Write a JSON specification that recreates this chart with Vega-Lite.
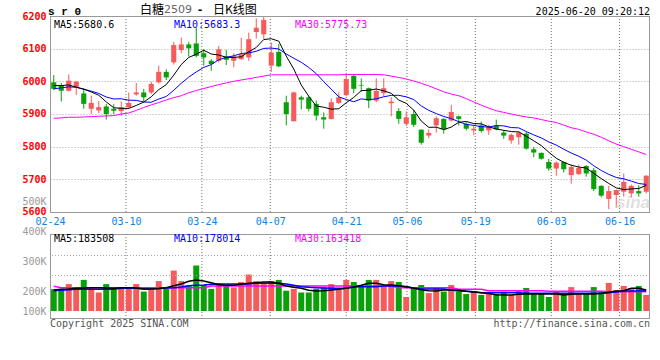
{
"$schema": "https://vega.github.io/schema/vega-lite/v6.json",
"width": 600, "height": 302,
"autosize": {"type": "none"},
"padding": {"left": 50, "top": 16, "right": 10, "bottom": 42},
"background": "white",
"config": {"view": {"stroke": null}, "font": "DejaVu Sans Mono"},
"data": {"values": [
{"date":"02-24","open":5997,"high":6019,"low":5973,"close":5977,"vol":206,"ma5":5987,"ma10":5977,"ma30":5887,"vma5":203.4,"vma10":201.2,"vma30":215.6},
{"date":"02-25","open":5989,"high":5995,"low":5938,"close":5971,"vol":207,"ma5":5987,"ma10":5980,"ma30":5888,"vma5":205.6,"vma10":202.3,"vma30":211.2},
{"date":"02-26","open":5971,"high":6021,"low":5969,"close":6002,"vol":223,"ma5":5989,"ma10":5983,"ma30":5890,"vma5":206.7,"vma10":204.5,"vma30":211.2},
{"date":"02-27","open":5982,"high":6001,"low":5958,"close":5999,"vol":206,"ma5":5982,"ma10":5982,"ma30":5890,"vma5":209,"vma10":205.6,"vma30":211.2},
{"date":"02-28","open":5963,"high":5979,"low":5916,"close":5931,"vol":237,"ma5":5976,"ma10":5976,"ma30":5891,"vma5":210,"vma10":205.6,"vma30":211.2},
{"date":"03-03","open":5916,"high":5956,"low":5900,"close":5934,"vol":212,"ma5":5967.4,"ma10":5970,"ma30":5892,"vma5":211.2,"vma10":205.6,"vma30":211.2},
{"date":"03-04","open":5911,"high":5940,"low":5903,"close":5921,"vol":195,"ma5":5957.4,"ma10":5963,"ma30":5893,"vma5":211.2,"vma10":205.6,"vma30":211.2},
{"date":"03-05","open":5923,"high":5931,"low":5883,"close":5900,"vol":223,"ma5":5937,"ma10":5952,"ma30":5894,"vma5":210,"vma10":205.6,"vma30":211.2},
{"date":"03-06","open":5916,"high":5930,"low":5900,"close":5910,"vol":209,"ma5":5919.2,"ma10":5946,"ma30":5895,"vma5":209,"vma10":205.6,"vma30":211.2},
{"date":"03-07","open":5909,"high":5939,"low":5895,"close":5921,"vol":212,"ma5":5917.2,"ma10":5946.6,"ma30":5900,"vma5":211.2,"vma10":209,"vma30":211.2},
{"date":"03-10","open":5921,"high":5966,"low":5916,"close":5934,"vol":207,"ma5":5917.2,"ma10":5942.3,"ma30":5903,"vma5":211.2,"vma10":209,"vma30":211.2},
{"date":"03-11","open":5960,"high":5995,"low":5956,"close":5966,"vol":223,"ma5":5926.2,"ma10":5941.8,"ma30":5911,"vma5":210,"vma10":209,"vma30":211.2},
{"date":"03-12","open":5966,"high":5977,"low":5938,"close":5951,"vol":198,"ma5":5936.4,"ma10":5936.7,"ma30":5920,"vma5":206.7,"vma10":206.7,"vma30":211.2},
{"date":"03-13","open":5966,"high":5999,"low":5961,"close":5992,"vol":203,"ma5":5952.8,"ma10":5936,"ma30":5928,"vma5":206.7,"vma10":206.7,"vma30":211.2},
{"date":"03-14","open":5997,"high":6048,"low":5993,"close":6029,"vol":233,"ma5":5974.4,"ma10":5945.8,"ma30":5935,"vma5":208,"vma10":208,"vma30":211.2},
{"date":"03-17","open":6029,"high":6037,"low":6004,"close":6012,"vol":207,"ma5":5990,"ma10":5953.6,"ma30":5943,"vma5":211.2,"vma10":210,"vma30":211.2},
{"date":"03-18","open":6058,"high":6121,"low":6051,"close":6111,"vol":268,"ma5":6019,"ma10":5972.6,"ma30":5950,"vma5":217.8,"vma10":211.2,"vma30":211.2},
{"date":"03-19","open":6096,"high":6134,"low":6086,"close":6113,"vol":233,"ma5":6051.4,"ma10":5993.9,"ma30":5956,"vma5":223.3,"vma10":213.4,"vma30":211.2},
{"date":"03-20","open":6113,"high":6121,"low":6076,"close":6101,"vol":218,"ma5":6073.2,"ma10":6013,"ma30":5965,"vma5":232.3,"vma10":217.8,"vma30":211.2},
{"date":"03-21","open":6116,"high":6164,"low":6073,"close":6078,"vol":285,"ma5":6083,"ma10":6028.7,"ma30":5972,"vma5":236.7,"vma10":218.9,"vma30":211.2},
{"date":"03-24","open":6086,"high":6098,"low":6048,"close":6073,"vol":220,"ma5":6095.2,"ma10":6042.6,"ma30":5978,"vma5":233.4,"vma10":220,"vma30":211.2},
{"date":"03-25","open":6063,"high":6068,"low":6032,"close":6053,"vol":207,"ma5":6083.6,"ma10":6051.3,"ma30":5984,"vma5":227.8,"vma10":222.3,"vma30":216.7},
{"date":"03-26","open":6063,"high":6108,"low":6058,"close":6098,"vol":226,"ma5":6080.6,"ma10":6066,"ma30":5990,"vma5":221.2,"vma10":223.4,"vma30":216.7},
{"date":"03-27","open":6076,"high":6096,"low":6050,"close":6066,"vol":217,"ma5":6073.6,"ma10":6073.4,"ma30":5995,"vma5":219,"vma10":223.4,"vma30":216.7},
{"date":"03-28","open":6063,"high":6086,"low":6043,"close":6076,"vol":212,"ma5":6073.2,"ma10":6078.1,"ma30":6000,"vma5":219,"vma10":223.4,"vma30":216.7},
{"date":"03-31","open":6068,"high":6134,"low":6066,"close":6083,"vol":230,"ma5":6075.2,"ma10":6085.2,"ma30":6004,"vma5":222.3,"vma10":223.4,"vma30":216.7},
{"date":"04-01","open":6073,"high":6149,"low":6063,"close":6129,"vol":255,"ma5":6090.4,"ma10":6087,"ma30":6008,"vma5":225.6,"vma10":223.4,"vma30":216.7},
{"date":"04-02","open":6151,"high":6193,"low":6131,"close":6164,"vol":233,"ma5":6103.6,"ma10":6092.1,"ma30":6012,"vma5":227.8,"vma10":225.6,"vma30":216.7},
{"date":"04-03","open":6144,"high":6198,"low":6130,"close":6188,"vol":223,"ma5":6128,"ma10":6100.8,"ma30":6016,"vma5":230,"vma10":225.6,"vma30":216.7},
{"date":"04-07","open":6048,"high":6119,"low":6029,"close":6088,"vol":233,"ma5":6130.4,"ma10":6101.8,"ma30":6020,"vma5":230,"vma10":225.6,"vma30":216.7},
{"date":"04-08","open":6090,"high":6114,"low":6043,"close":6046,"vol":237,"ma5":6123,"ma10":6099.1,"ma30":6020,"vma5":225.6,"vma10":225.6,"vma30":216.7},
{"date":"04-09","open":5936,"high":5956,"low":5865,"close":5900,"vol":201,"ma5":6077.2,"ma10":6083.8,"ma30":6020,"vma5":216.7,"vma10":223.4,"vma30":216.7},
{"date":"04-10","open":5878,"high":5968,"low":5877,"close":5966,"vol":207,"ma5":6037.6,"ma10":6070.6,"ma30":6020,"vma5":212.3,"vma10":219,"vma30":216.7},
{"date":"04-11","open":5951,"high":5956,"low":5914,"close":5944,"vol":195,"ma5":5988.8,"ma10":6058.4,"ma30":6020,"vma5":209,"vma10":214.5,"vma30":216.7},
{"date":"04-14","open":5951,"high":5956,"low":5908,"close":5916,"vol":195,"ma5":5954.4,"ma10":6042.4,"ma30":6020,"vma5":202.3,"vma10":212.3,"vma30":216.7},
{"date":"04-15","open":5931,"high":5941,"low":5880,"close":5895,"vol":207,"ma5":5924.2,"ma10":6023.6,"ma30":6020,"vma5":200,"vma10":211.2,"vma30":216.7},
{"date":"04-16","open":5890,"high":5905,"low":5855,"close":5883,"vol":212,"ma5":5920.8,"ma10":5999,"ma30":6020,"vma5":201.2,"vma10":210,"vma30":216.7},
{"date":"04-17","open":5885,"high":5948,"low":5883,"close":5936,"vol":223,"ma5":5914.8,"ma10":5976.2,"ma30":6020,"vma5":203.4,"vma10":209,"vma30":216.7},
{"date":"04-18","open":5934,"high":5966,"low":5931,"close":5951,"vol":206,"ma5":5916.2,"ma10":5952.5,"ma30":6020,"vma5":205.6,"vma10":209,"vma30":216.7},
{"date":"04-21","open":5958,"high":6022,"low":5954,"close":6007,"vol":237,"ma5":5934.4,"ma10":5944.4,"ma30":6021,"vma5":209,"vma10":210,"vma30":216.7},
{"date":"04-22","open":6017,"high":6022,"low":5964,"close":5977,"vol":230,"ma5":5950.8,"ma10":5937.5,"ma30":6021,"vma5":213.4,"vma10":213.4,"vma30":216.7},
{"date":"04-23","open":5989,"high":6009,"low":5968,"close":5987,"vol":217,"ma5":5971.6,"ma10":5946.2,"ma30":6021,"vma5":219,"vma10":214.5,"vma30":216.7},
{"date":"04-24","open":5979,"high":5981,"low":5918,"close":5941,"vol":237,"ma5":5972.6,"ma10":5943.7,"ma30":6021,"vma5":225.6,"vma10":214.5,"vma30":216.7},
{"date":"04-25","open":5941,"high":6009,"low":5936,"close":5971,"vol":237,"ma5":5976.6,"ma10":5946.4,"ma30":6021,"vma5":225.6,"vma10":214.5,"vma30":216.7},
{"date":"04-28","open":5964,"high":6009,"low":5954,"close":5979,"vol":215,"ma5":5971,"ma10":5952.7,"ma30":6020,"vma5":221.2,"vma10":216.7,"vma30":216.7},
{"date":"04-29","open":5933,"high":5951,"low":5893,"close":5938,"vol":233,"ma5":5963.2,"ma10":5957,"ma30":6016,"vma5":220,"vma10":216.7,"vma30":216.7},
{"date":"04-30","open":5909,"high":5918,"low":5870,"close":5885,"vol":230,"ma5":5942.8,"ma10":5957.2,"ma30":6012,"vma5":217.8,"vma10":216.7,"vma30":211.2},
{"date":"05-06","open":5870,"high":5908,"low":5863,"close":5890,"vol":180,"ma5":5932.6,"ma10":5952.6,"ma30":6007,"vma5":214.5,"vma10":214.5,"vma30":211.2},
{"date":"05-07","open":5900,"high":5913,"low":5860,"close":5867,"vol":209,"ma5":5911.8,"ma10":5944.2,"ma30":6001,"vma5":209,"vma10":210,"vma30":211.2},
{"date":"05-08","open":5852,"high":5853,"low":5806,"close":5812,"vol":220,"ma5":5878.4,"ma10":5924.7,"ma30":5994,"vma5":204.5,"vma10":207.8,"vma30":211.2},
{"date":"05-09","open":5834,"high":5853,"low":5826,"close":5842,"vol":193,"ma5":5859.2,"ma10":5911.2,"ma30":5986,"vma5":201.2,"vma10":206.7,"vma30":211.2},
{"date":"05-12","open":5865,"high":5893,"low":5843,"close":5887,"vol":212,"ma5":5859.6,"ma10":5901.2,"ma30":5977,"vma5":200,"vma10":206.7,"vma30":211.2},
{"date":"05-13","open":5885,"high":5887,"low":5840,"close":5853,"vol":198,"ma5":5852.2,"ma10":5892.4,"ma30":5968,"vma5":203.4,"vma10":206.7,"vma30":211.2},
{"date":"05-14","open":5880,"high":5928,"low":5877,"close":5906,"vol":220,"ma5":5860,"ma10":5885.9,"ma30":5961,"vma5":203.4,"vma10":203.4,"vma30":211.2},
{"date":"05-15","open":5893,"high":5895,"low":5865,"close":5885,"vol":198,"ma5":5874.6,"ma10":5876.5,"ma30":5956,"vma5":202.3,"vma10":200,"vma30":205.6},
{"date":"05-16","open":5870,"high":5875,"low":5850,"close":5855,"vol":190,"ma5":5877.2,"ma10":5868.2,"ma30":5947,"vma5":199,"vma10":199,"vma30":205.6},
{"date":"05-19","open":5850,"high":5865,"low":5836,"close":5855,"vol":198,"ma5":5870.8,"ma10":5865.2,"ma30":5937,"vma5":196.7,"vma10":197.8,"vma30":205.6},
{"date":"05-20","open":5865,"high":5877,"low":5843,"close":5848,"vol":187,"ma5":5869.8,"ma10":5861,"ma30":5927,"vma5":194.5,"vma10":194.5,"vma30":205.6},
{"date":"05-21","open":5850,"high":5867,"low":5836,"close":5860,"vol":190,"ma5":5860.6,"ma10":5860.3,"ma30":5918,"vma5":191.3,"vma10":194.5,"vma30":201.2},
{"date":"05-22","open":5865,"high":5883,"low":5850,"close":5853,"vol":190,"ma5":5854.2,"ma10":5864.4,"ma30":5910,"vma5":187.9,"vma10":194.5,"vma30":201.2},
{"date":"05-23","open":5843,"high":5850,"low":5824,"close":5834,"vol":198,"ma5":5850,"ma10":5863.6,"ma30":5905,"vma5":186.7,"vma10":194.5,"vma30":201.2},
{"date":"05-26","open":5819,"high":5840,"low":5809,"close":5836,"vol":187,"ma5":5846.2,"ma10":5858.5,"ma30":5900,"vma5":186.7,"vma10":194.5,"vma30":201.2},
{"date":"05-27","open":5829,"high":5847,"low":5806,"close":5843,"vol":203,"ma5":5845.2,"ma10":5857.5,"ma30":5895,"vma5":188.9,"vma10":194.5,"vma30":201.2},
{"date":"05-28","open":5840,"high":5845,"low":5791,"close":5794,"vol":210,"ma5":5832,"ma10":5846.3,"ma30":5891,"vma5":190,"vma10":192.3,"vma30":201.2},
{"date":"05-29","open":5792,"high":5799,"low":5768,"close":5782,"vol":190,"ma5":5817.8,"ma10":5836,"ma30":5888,"vma5":190,"vma10":192.3,"vma30":201.2},
{"date":"05-30","open":5781,"high":5782,"low":5760,"close":5763,"vol":190,"ma5":5803.6,"ma10":5826.8,"ma30":5883,"vma5":190,"vma10":192.3,"vma30":201.2},
{"date":"06-03","open":5753,"high":5763,"low":5726,"close":5733,"vol":180,"ma5":5783,"ma10":5814.6,"ma30":5878,"vma5":190,"vma10":192.3,"vma30":199},
{"date":"06-04","open":5733,"high":5755,"low":5711,"close":5751,"vol":198,"ma5":5764.6,"ma10":5804.9,"ma30":5874,"vma5":190,"vma10":192.3,"vma30":199},
{"date":"06-05","open":5753,"high":5755,"low":5721,"close":5731,"vol":190,"ma5":5752,"ma10":5792,"ma30":5866,"vma5":186.7,"vma10":192.3,"vma30":199},
{"date":"06-06","open":5713,"high":5745,"low":5687,"close":5738,"vol":213,"ma5":5743.2,"ma10":5780.5,"ma30":5858,"vma5":188.9,"vma10":192.3,"vma30":199},
{"date":"06-09","open":5716,"high":5745,"low":5713,"close":5735,"vol":190,"ma5":5737.6,"ma10":5770.6,"ma30":5853,"vma5":190,"vma10":192.3,"vma30":199},
{"date":"06-10","open":5741,"high":5743,"low":5708,"close":5718,"vol":190,"ma5":5734.6,"ma10":5758.8,"ma30":5845,"vma5":190,"vma10":192.3,"vma30":199},
{"date":"06-11","open":5728,"high":5735,"low":5664,"close":5670,"vol":213,"ma5":5718.4,"ma10":5741.5,"ma30":5838,"vma5":190,"vma10":192.3,"vma30":199},
{"date":"06-12","open":5680,"high":5682,"low":5645,"close":5650,"vol":198,"ma5":5702.2,"ma10":5727.1,"ma30":5829,"vma5":191.3,"vma10":192.3,"vma30":199},
{"date":"06-13","open":5640,"high":5680,"low":5609,"close":5664,"vol":227,"ma5":5687.4,"ma10":5715.3,"ma30":5818,"vma5":195.6,"vma10":194.5,"vma30":197.8},
{"date":"06-16","open":5652,"high":5669,"low":5613,"close":5667,"vol":203,"ma5":5673.8,"ma10":5705.7,"ma30":5808,"vma5":200,"vma10":196.7,"vma30":197.8},
{"date":"06-17","open":5662,"high":5718,"low":5647,"close":5692,"vol":217,"ma5":5668.6,"ma10":5701.6,"ma30":5800,"vma5":201.2,"vma10":200,"vma30":197.8},
{"date":"06-18","open":5657,"high":5684,"low":5644,"close":5680,"vol":210,"ma5":5670.6,"ma10":5694.5,"ma30":5792,"vma5":209,"vma10":200,"vma30":197.8},
{"date":"06-19","open":5664,"high":5682,"low":5647,"close":5657,"vol":217,"ma5":5672,"ma10":5687.1,"ma30":5784,"vma5":209,"vma10":200,"vma30":197.8},
{"date":"06-20","open":5662,"high":5713,"low":5657,"close":5711,"vol":187,"ma5":5681.4,"ma10":5684.4,"ma30":5776,"vma5":203.4,"vma10":201.2,"vma30":197.8}
]},
"resolve": {"scale": {"x": "independent", "y": "independent"}, "axis": {"x": "independent", "y": "independent"}},
"layer": [
{
 "transform": [{"filter": "indexof(['03-10','03-24','04-07','04-21','05-06','05-19','06-03','06-16'], datum.date) >= 0"}],
 "resolve": {"scale": {"y": "independent"}, "axis": {"y": "independent"}},
 "layer": [
  {"mark": {"type": "rule", "color": "#6e6e6e", "strokeDash": [1, 2], "strokeWidth": 1},
   "encoding": {
    "x": {"field": "date", "type": "ordinal",
          "scale": {"type": "point", "padding": 0, "domain": ["02-24","02-25","02-26","02-27","02-28","03-03","03-04","03-05","03-06","03-07","03-10","03-11","03-12","03-13","03-14","03-17","03-18","03-19","03-20","03-21","03-24","03-25","03-26","03-27","03-28","03-31","04-01","04-02","04-03","04-07","04-08","04-09","04-10","04-11","04-14","04-15","04-16","04-17","04-18","04-21","04-22","04-23","04-24","04-25","04-28","04-29","04-30","05-06","05-07","05-08","05-09","05-12","05-13","05-14","05-15","05-16","05-19","05-20","05-21","05-22","05-23","05-26","05-27","05-28","05-29","05-30","06-03","06-04","06-05","06-06","06-09","06-10","06-11","06-12","06-13","06-16","06-17","06-18","06-19","06-20"]},
          "axis": {"values": ["02-24","03-10","03-24","04-07","04-21","05-06","05-19","06-03","06-16"], "orient": "bottom", "offset": -106, "domain": false, "ticks": false, "grid": false, "labelAngle": 0, "labelColor": "#0a84e6", "labelFont": "DejaVu Sans Mono", "labelFontSize": 10, "labelPadding": 4, "labelOverlap": false, "labelFlush": false, "title": null}},
    "y": {"datum": 6200, "type": "quantitative", "scale": {"domain": [5275.5, 6200], "nice": false, "zero": false}, "axis": null},
    "y2": {"datum": 5600}
   }},
  {"mark": {"type": "rule", "color": "#6e6e6e", "strokeDash": [1, 2], "strokeWidth": 1},
   "encoding": {
    "x": {"field": "date", "type": "ordinal"},
    "y": {"datum": 390, "type": "quantitative", "scale": {"domain": [110, 1116.67], "nice": false, "zero": false}, "axis": null},
    "y2": {"datum": 110}
   }}
 ]
},
{
 "layer": [
  {"mark": {"type": "rule", "strokeWidth": 1},
   "encoding": {
    "x": {"field": "date", "type": "ordinal", "scale": {"type": "band", "paddingInner": 0, "paddingOuter": 0}, "axis": null},
    "y": {"field": "low", "type": "quantitative", "scale": {"domain": [5275.5, 6200], "nice": false, "zero": false},
          "axis": {"values": [5600, 5700, 5800, 5900, 6000, 6100, 6200], "orient": "left", "format": "d", "grid": true, "gridColor": "#a8a8a8", "gridDash": [1, 2], "domain": false, "ticks": false, "tickSize": 0, "labelPadding": 4, "labelColor": "#ff0000", "labelFont": "DejaVu Sans Mono", "labelFontSize": 10, "labelFontWeight": "bold", "labelOverlap": false, "title": null}},
    "y2": {"field": "high"},
    "color": {"condition": {"test": "datum.close >= datum.open", "value": "#f65a5a"}, "value": "#0aa00a"}
   }},
  {"transform": [{"filter": "datum.date == '02-24'"}], "mark": {"type": "rule", "color": "#999999", "yOffset": 0.5},
   "encoding": {"y": {"datum": 6200, "type": "quantitative"}}},
  {"transform": [{"filter": "datum.date == '02-24'"}], "mark": {"type": "rule", "color": "#999999", "yOffset": 0.5},
   "encoding": {"y": {"datum": 5600, "type": "quantitative"}}},
  {"transform": [{"filter": "datum.date == '02-24'"}], "mark": {"type": "rule", "color": "#999999", "xOffset": 0.5},
   "encoding": {"x": {"datum": "02-24", "type": "ordinal", "bandPosition": 0},
                "y": {"datum": 6200, "type": "quantitative"}, "y2": {"datum": 5600}}},
  {"transform": [{"filter": "datum.date == '02-24'"}], "mark": {"type": "rule", "color": "#999999", "xOffset": -0.5},
   "encoding": {"x": {"datum": "06-20", "type": "ordinal", "bandPosition": 1},
                "y": {"datum": 6200, "type": "quantitative"}, "y2": {"datum": 5600}}},
  {"mark": {"type": "bar", "width": {"band": 0.68}},
   "encoding": {
    "x": {"field": "date", "type": "ordinal"},
    "y": {"field": "open", "type": "quantitative"},
    "y2": {"field": "close"},
    "color": {"condition": {"test": "datum.close >= datum.open", "value": "#f65a5a"}, "value": "#0aa00a"}
   }},
  {"mark": {"type": "line", "color": "#ff00ff", "strokeWidth": 1},
   "encoding": {"x": {"field": "date", "type": "ordinal"}, "y": {"field": "ma30", "type": "quantitative"}}},
  {"mark": {"type": "line", "color": "#0000ff", "strokeWidth": 1},
   "encoding": {"x": {"field": "date", "type": "ordinal"}, "y": {"field": "ma10", "type": "quantitative"}}},
  {"mark": {"type": "line", "color": "#000000", "strokeWidth": 1},
   "encoding": {"x": {"field": "date", "type": "ordinal"}, "y": {"field": "ma5", "type": "quantitative"}}},
  {"transform": [{"filter": "datum.date == '02-24'"}], "mark": {"type": "text", "align": "right", "baseline": "alphabetic", "dy": -4, "font": "Liberation Sans", "fontSize": 17, "fontStyle": "italic", "fontWeight": "bold", "color": "#d9d9d9", "opacity": 0.8},
   "encoding": {"x": {"datum": "06-20", "type": "ordinal", "bandPosition": 1}, "y": {"datum": 5600, "type": "quantitative"}, "text": {"value": "sina"}}},
  {"transform": [{"filter": "datum.date == '02-24'"}], "mark": {"type": "text", "align": "left", "baseline": "alphabetic", "dx": -2, "dy": -1, "font": "Liberation Mono", "fontSize": 11, "fontWeight": "bold", "color": "#000000"},
   "encoding": {"x": {"datum": "02-24", "type": "ordinal", "bandPosition": 0}, "y": {"datum": 6200, "type": "quantitative"}, "text": {"value": "s r 0"}}},
  {"transform": [{"filter": "datum.date == '02-24'"}], "mark": {"type": "text", "align": "left", "baseline": "alphabetic", "dy": -2, "font": "Noto Sans CJK SC", "fontSize": 12, "color": "#000000"},
   "encoding": {"x": {"datum": "03-12", "type": "ordinal", "bandPosition": 0}, "y": {"datum": 6200, "type": "quantitative"}, "text": {"value": "白糖"}}},
  {"transform": [{"filter": "datum.date == '02-24'"}], "mark": {"type": "text", "align": "left", "baseline": "alphabetic", "dx": 1.5, "dy": -3, "font": "DejaVu Sans", "fontSize": 11, "color": "#666666"},
   "encoding": {"x": {"datum": "03-17", "type": "ordinal", "bandPosition": 0}, "y": {"datum": 6200, "type": "quantitative"}, "text": {"value": "2509"}}},
  {"transform": [{"filter": "datum.date == '02-24'"}], "mark": {"type": "text", "align": "center", "baseline": "alphabetic", "dy": -3, "font": "DejaVu Sans", "fontSize": 11, "fontWeight": "bold", "color": "#000000"},
   "encoding": {"x": {"datum": "03-24", "type": "ordinal", "bandPosition": 0}, "y": {"datum": 6200, "type": "quantitative"}, "text": {"value": "-"}}},
  {"transform": [{"filter": "datum.date == '02-24'"}], "mark": {"type": "text", "align": "left", "baseline": "alphabetic", "dx": -2, "dy": -2, "font": "Noto Sans CJK SC", "fontSize": 12, "color": "#000000"},
   "encoding": {"x": {"datum": "03-26", "type": "ordinal", "bandPosition": 0}, "y": {"datum": 6200, "type": "quantitative"}, "text": {"value": "日K线图"}}},
  {"transform": [{"filter": "datum.date == '02-24'"}], "mark": {"type": "text", "align": "right", "baseline": "alphabetic", "dy": -1, "font": "DejaVu Sans Mono", "fontSize": 10, "color": "#000000"},
   "encoding": {"x": {"datum": "06-20", "type": "ordinal", "bandPosition": 1}, "y": {"datum": 6200, "type": "quantitative"}, "text": {"value": "2025-06-20 09:20:12"}}},
  {"transform": [{"filter": "datum.date == '02-24'"}], "mark": {"type": "text", "align": "left", "baseline": "alphabetic", "dx": 4, "dy": 12, "font": "DejaVu Sans Mono", "fontSize": 10, "color": "#000000"},
   "encoding": {"x": {"datum": "02-24", "type": "ordinal", "bandPosition": 0}, "y": {"datum": 6200, "type": "quantitative"}, "text": {"value": "MA5:5680.6"}}},
  {"transform": [{"filter": "datum.date == '02-24'"}], "mark": {"type": "text", "align": "left", "baseline": "alphabetic", "dx": 4, "dy": 12, "font": "DejaVu Sans Mono", "fontSize": 10, "color": "#0000ff"},
   "encoding": {"x": {"datum": "03-18", "type": "ordinal", "bandPosition": 0}, "y": {"datum": 6200, "type": "quantitative"}, "text": {"value": "MA10:5683.3"}}},
  {"transform": [{"filter": "datum.date == '02-24'"}], "mark": {"type": "text", "align": "left", "baseline": "alphabetic", "dx": 5, "dy": 12, "font": "DejaVu Sans Mono", "fontSize": 10, "color": "#ff00ff"},
   "encoding": {"x": {"datum": "04-10", "type": "ordinal", "bandPosition": 0}, "y": {"datum": 6200, "type": "quantitative"}, "text": {"value": "MA30:5775.73"}}}
 ]
},
{
 "layer": [
  {"mark": {"type": "bar", "width": {"band": 0.8}},
   "encoding": {
    "x": {"field": "date", "type": "ordinal", "scale": {"type": "band", "paddingInner": 0, "paddingOuter": 0}, "axis": null},
    "y": {"field": "vol", "type": "quantitative", "scale": {"domain": [110, 1116.67], "nice": false, "zero": false},
          "axis": {"values": [133.333, 200, 300, 400, 500], "labelExpr": "datum.value < 150 ? '100K' : datum.value + 'K'", "orient": "left", "grid": false, "domain": false, "ticks": false, "tickSize": 0, "labelPadding": 4, "labelColor": "#999999", "labelFont": "DejaVu Sans Mono", "labelFontSize": 10, "labelOverlap": false, "title": null}},
    "y2": {"datum": 133.333},
    "color": {"condition": {"test": "datum.close >= datum.open", "value": "#f65a5a"}, "value": "#0aa00a"}
   }},
  {"transform": [{"filter": "datum.date == '02-24'"}], "mark": {"type": "rule", "color": "#999999", "yOffset": 0.5},
   "encoding": {"y": {"datum": 390, "type": "quantitative"}}},
  {"transform": [{"filter": "datum.date == '02-24'"}], "mark": {"type": "rule", "color": "#999999", "yOffset": 0.5},
   "encoding": {"y": {"datum": 110, "type": "quantitative"}}},
  {"transform": [{"filter": "datum.date == '02-24'"}], "mark": {"type": "rule", "color": "#a8a8a8", "strokeDash": [1, 2]},
   "encoding": {"y": {"datum": 318.33, "type": "quantitative"}}},
  {"transform": [{"filter": "datum.date == '02-24'"}], "mark": {"type": "rule", "color": "#a8a8a8", "strokeDash": [1, 2]},
   "encoding": {"y": {"datum": 251.67, "type": "quantitative"}}},
  {"transform": [{"filter": "datum.date == '02-24'"}], "mark": {"type": "rule", "color": "#999999", "xOffset": 0.5},
   "encoding": {"x": {"datum": "02-24", "type": "ordinal", "bandPosition": 0},
                "y": {"datum": 390, "type": "quantitative"}, "y2": {"datum": 110}}},
  {"transform": [{"filter": "datum.date == '02-24'"}], "mark": {"type": "rule", "color": "#999999", "xOffset": -0.5},
   "encoding": {"x": {"datum": "06-20", "type": "ordinal", "bandPosition": 1},
                "y": {"datum": 390, "type": "quantitative"}, "y2": {"datum": 110}}},
  {"mark": {"type": "line", "color": "#ff00ff", "strokeWidth": 1.5},
   "encoding": {"x": {"field": "date", "type": "ordinal"}, "y": {"field": "vma30", "type": "quantitative"}}},
  {"mark": {"type": "line", "color": "#0000ff", "strokeWidth": 1.5},
   "encoding": {"x": {"field": "date", "type": "ordinal"}, "y": {"field": "vma10", "type": "quantitative"}}},
  {"mark": {"type": "line", "color": "#000000", "strokeWidth": 1.5},
   "encoding": {"x": {"field": "date", "type": "ordinal"}, "y": {"field": "vma5", "type": "quantitative"}}},
  {"transform": [{"filter": "datum.date == '02-24'"}], "mark": {"type": "text", "align": "left", "baseline": "alphabetic", "dx": 4, "dy": 8, "font": "DejaVu Sans Mono", "fontSize": 10, "color": "#000000"},
   "encoding": {"x": {"datum": "02-24", "type": "ordinal", "bandPosition": 0}, "y": {"datum": 390, "type": "quantitative"}, "text": {"value": "MA5:183508"}}},
  {"transform": [{"filter": "datum.date == '02-24'"}], "mark": {"type": "text", "align": "left", "baseline": "alphabetic", "dx": 4, "dy": 8, "font": "DejaVu Sans Mono", "fontSize": 10, "color": "#0000ff"},
   "encoding": {"x": {"datum": "03-18", "type": "ordinal", "bandPosition": 0}, "y": {"datum": 390, "type": "quantitative"}, "text": {"value": "MA10:178014"}}},
  {"transform": [{"filter": "datum.date == '02-24'"}], "mark": {"type": "text", "align": "left", "baseline": "alphabetic", "dx": 5, "dy": 8, "font": "DejaVu Sans Mono", "fontSize": 10, "color": "#ff00ff"},
   "encoding": {"x": {"datum": "04-10", "type": "ordinal", "bandPosition": 0}, "y": {"datum": 390, "type": "quantitative"}, "text": {"value": "MA30:163418"}}},
  {"transform": [{"filter": "datum.date == '02-24'"}], "mark": {"type": "text", "align": "left", "baseline": "alphabetic", "dy": 9, "font": "DejaVu Sans Mono", "fontSize": 10, "color": "#555555"},
   "encoding": {"x": {"datum": "02-24", "type": "ordinal", "bandPosition": 0}, "y": {"datum": 110, "type": "quantitative"}, "text": {"value": "Copyright 2025 SINA.COM"}}},
  {"transform": [{"filter": "datum.date == '02-24'"}], "mark": {"type": "text", "align": "right", "baseline": "alphabetic", "dy": 9, "font": "DejaVu Sans Mono", "fontSize": 10, "color": "#555555"},
   "encoding": {"x": {"datum": "06-20", "type": "ordinal", "bandPosition": 1}, "y": {"datum": 110, "type": "quantitative"}, "text": {"value": "http://finance.sina.com.cn"}}}
 ]
}
]
}
